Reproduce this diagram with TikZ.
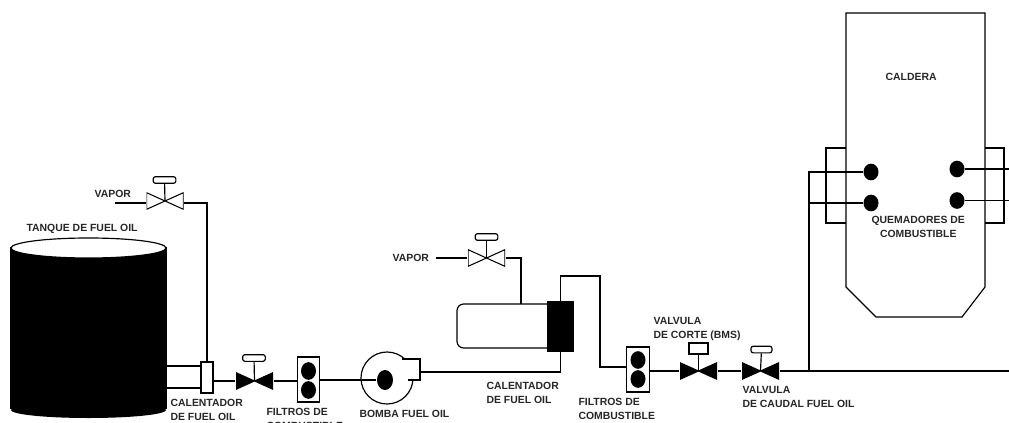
\documentclass[tikz,border=0pt]{standalone}
\usepackage{fontspec}
\setmainfont{Liberation Sans}
\usetikzlibrary{shapes.geometric}
\tikzset{
  etiqueta/.style={anchor=north west,align=left,inner sep=0pt,font=\bfseries\fontsize{8.9}{11.6}\selectfont,text=black!85},
  valvula/.style={minimum width=1.11cm,minimum height=0.5cm,inner sep=0pt,path picture={
    \draw[fill=#1,line width=0.9pt,line join=miter]
      ([shift={(0.015,0.015)}]path picture bounding box.south west) --
      ([shift={(-0.015,-0.015)}]path picture bounding box.north east) --
      ([shift={(-0.015,0.015)}]path picture bounding box.south east) --
      ([shift={(0.015,-0.015)}]path picture bounding box.north west) -- cycle;}},
  volante/.style={draw,rounded corners=0.07cm,minimum width=0.68cm,minimum height=0.2cm,inner sep=0pt,fill=white},
  filtro/.style={draw,fill=white,minimum width=0.67cm,minimum height=1.35cm,inner sep=0pt},
  disco/.style={ellipse,fill=black,minimum width=0.45cm,minimum height=0.53cm,inner sep=0pt},
  bloque/.style={rectangle,draw,fill=black,inner sep=0pt}
}
\begin{document}
\begin{tikzpicture}[x=0.03cm,y=-0.03cm,line width=1pt]
  \useasboundingbox (0,0) rectangle (1009,423);

  % Tanque
  \fill (88.5,410) ellipse (77.5 and 8);
  \node[bloque,minimum width=4.65cm,minimum height=4.83cm] (tanque) at (88.5,328) {};
  \draw[fill=white] (88.5,248) ellipse (77.5 and 10);
  \coordinate (tanqueA) at (166,366);
  \coordinate (tanqueB) at (166,388);
  \node[etiqueta] at (26,224) {TANQUE DE FUEL OIL};

  % Calentador junto al tanque
  \node[draw,fill=white,minimum width=0.36cm,minimum height=0.93cm,inner sep=0pt] (calA) at (207,377.5) {};
  \draw (tanqueA) -- (tanqueA -| calA.west);
  \draw (tanqueB) -- (tanqueB -| calA.west);
  \node[etiqueta] at (170,399) {CALENTADOR\\DE FUEL OIL};

  % Vapor al tanque
  \node[valvula=white] (vapA) at (165,201) {};
  \node[volante] (volVapA) at (164.5,180) {};
  \draw (vapA.center) -- (volVapA);
  \coordinate (vaporA) at (115,203);
  \draw (vaporA) -- (vaporA -| vapA.west);
  \draw (vapA.east |- vaporA) -| (calA.north);
  \node[etiqueta] at (94,190) {VAPOR};

  % Valvula y filtros de la bomba
  \node[valvula=black] (valA) at (254.5,381) {};
  \node[volante] (volValA) at (254,358) {};
  \draw (valA.center) -- (volValA);
  \node[filtro] (filA) at (308.5,379.5) {};
  \node[disco] (disA) at (308.5,371) {};
  \node[disco] (disB) at (308.5,390) {};
  \draw (calA.east |- valA) -- (valA.west);
  \draw (valA.east) -- (filA.west |- valA);
  \node[etiqueta] at (266,408) {FILTROS DE\\COMBUSTIBLE};

  % Bomba
  \node[circle,draw,fill=white,minimum size=1.56cm,inner sep=0pt] (bomba) at (387,378) {};
  \coordinate (salidaA) at (402,359);
  \coordinate (salidaB) at (420,359);
  \coordinate (salidaC) at (420,380);
  \coordinate (salidaD) at (408,380);
  \draw[fill=white] (salidaA) -- (salidaB) -- (salidaC) -- (salidaD);
  \node[disco,minimum height=0.6cm,minimum width=0.48cm] (nucleo) at (385,380) {};
  \draw (filA.east |- nucleo) -- (nucleo);
  \node[etiqueta] at (359,410) {BOMBA FUEL OIL};

  % Calentador de la linea
  \node[bloque,minimum width=0.75cm,minimum height=1.47cm] (calB) at (560.5,326.5) {};
  \coordinate (cuerpoA) at (457,304);
  \coordinate (cuerpoB) at (457,348);
  \draw[rounded corners=0.2cm] (calB.west |- cuerpoA) -- (cuerpoA) -- (cuerpoB) -- (calB.west |- cuerpoB);
  \coordinate (retorno) at (420,372);
  \draw (retorno) -| (calB.south);
  \node[etiqueta] at (486,382) {CALENTADOR\\DE FUEL OIL};

  % Vapor al calentador
  \node[valvula=white] (vapB) at (486.5,258) {};
  \node[volante] (volVapB) at (486.5,237) {};
  \draw (vapB.center) -- (volVapB);
  \coordinate (vaporB) at (436,258);
  \coordinate (entradaB) at (521,304);
  \draw (vaporB) -- (vapB.west);
  \draw (vapB.east) -| (entradaB);
  \node[etiqueta] at (392,254) {VAPOR};

  % Filtros de combustible
  \node[filtro] (filB) at (638,369.5) {};
  \node[disco] (disC) at (638,360) {};
  \node[disco] (disD) at (638,379) {};
  \coordinate (codoA) at (600,276);
  \coordinate (codoB) at (600,367);
  \draw (calB.north) |- (codoA) -- (codoB) -- (codoB -| filB.west);
  \node[etiqueta] at (578,398) {FILTROS DE\\COMBUSTIBLE};

  % Valvulas de corte y de caudal
  \node[valvula=black] (valB) at (698.5,371) {};
  \node[draw,fill=white,minimum width=0.57cm,minimum height=0.33cm,inner sep=0pt] (actB) at (698.5,348.5) {};
  \draw (valB.center) -- (actB);
  \node[valvula=black] (valC) at (760.5,371) {};
  \node[volante,minimum width=0.63cm] (volValC) at (761.5,349.5) {};
  \draw (valC.center) -- (volValC);
  \draw (filB.east |- valB) -- (valB.west);
  \draw (valB.east) -- (valC.west);
  \node[etiqueta] at (653,317) {VALVULA\\DE CORTE (BMS)};
  \node[etiqueta] at (742,386) {VALVULA\\DE CAUDAL FUEL OIL};

  % Caldera
  \draw (846,148) -- (826,148) -- (826,223) -- (846,223);
  \draw (985,148) -- (1004,148) -- (1004,223) -- (985,223);
  \draw (846,13) -- (985,13) -- (985,287) -- (962,317) -- (876,317) -- (846,287) -- cycle;
  \node[etiqueta] at (885,73) {CALDERA};
  \node[etiqueta,align=center] at (871,216) {QUEMADORES DE\\COMBUSTIBLE};

  % Quemadores
  \node[disco,minimum height=0.5cm] (quemA) at (871,172) {};
  \node[disco,minimum height=0.5cm] (quemB) at (871,203) {};
  \node[disco,minimum height=0.5cm] (quemC) at (957,169) {};
  \node[disco,minimum height=0.5cm] (quemD) at (957,200.5) {};

  % Alimentacion de quemadores
  \coordinate (tomaA) at (809,371);
  \coordinate (finA) at (1009,371);
  \coordinate (finB) at (1009,169);
  \coordinate (finC) at (1009,200.5);
  \draw (valC.east) -- (finA);
  \draw (tomaA) |- (quemA);
  \draw (tomaA |- quemB) -- (quemB);
  \draw (quemC) -- (finB);
  \draw (quemD) -- (finC);
\end{tikzpicture}
\end{document}
